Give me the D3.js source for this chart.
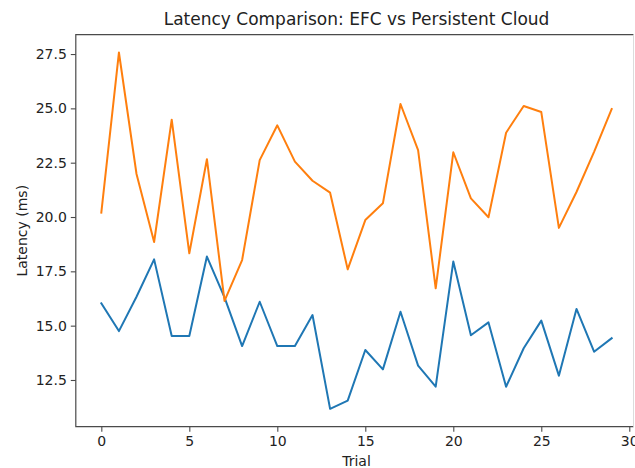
<!DOCTYPE html>
<html>
<head>
<meta charset="utf-8">
<script src="https://cdn.jsdelivr.net/npm/d3@7"></script>
<style>
  html, body { margin: 0; padding: 0; background: #fff; }
  svg { display: block; }
  text { font-family: "DejaVu Sans", sans-serif; fill: #222; }
</style>
</head>
<body>
<svg id="chart" width="635" height="468"></svg>
<script>
// Trial index and measured latencies (ms)
const trials = d3.range(30);
const efcLatency = [16.03, 14.75, 16.33, 18.05, 14.52, 14.52, 18.18, 16.3, 14.06, 16.1,
                    14.06, 14.06, 15.49, 11.17, 11.55, 13.88, 12.99, 15.64, 13.16, 12.19,
                    17.95, 14.56, 15.15, 12.19, 13.96, 15.23, 12.7, 15.77, 13.8, 14.42];
const cloudLatency = [20.2, 27.57, 21.98, 18.85, 24.48, 18.33, 22.66, 16.14, 18.02, 22.62,
                      24.22, 22.55, 21.67, 21.12, 17.59, 19.86, 20.63, 25.2, 23.08, 16.72,
                      22.98, 20.86, 19.99, 23.88, 25.11, 24.83, 19.5, 21.15, 23.0, 24.97];
const xTicks = [0, 5, 10, 15, 20, 25, 30];
const yTicks = [12.5, 15.0, 17.5, 20.0, 22.5, 25.0, 27.5];
const seriesColors = ["#1f77b4", "#ff7f0e"];

const svg = d3.select("#chart");
const plot = { left: 75.8, right: 637.2, top: 34.7, bottom: 426.7 };
const visibleRight = 633.5;

// Axis limits with 5% padding around the data
const xPad = 0.05 * (d3.max(trials) - d3.min(trials));
const x = d3.scaleLinear()
  .domain([d3.min(trials) - xPad, d3.max(trials) + xPad])
  .range([plot.left, plot.right]);
const allY = efcLatency.concat(cloudLatency);
const yMin = d3.min(allY), yMax = d3.max(allY);
const yPad = 0.05 * (yMax - yMin);
const y = d3.scaleLinear()
  .domain([yMin - yPad, yMax + yPad])
  .range([plot.bottom, plot.top]);

// Series lines
const line = d3.line().x((d, i) => x(trials[i])).y(d => y(d));
[efcLatency, cloudLatency].forEach((vals, k) => {
  svg.append("path")
    .datum(vals)
    .attr("d", line)
    .attr("fill", "none")
    .attr("stroke", seriesColors[k])
    .attr("stroke-width", 2)
    .attr("stroke-linejoin", "round")
    .attr("stroke-linecap", "square");
});

// Frame: left, top and bottom spines, faint right edge
svg.append("path")
  .attr("d", `M${visibleRight},${plot.top}H${plot.left}V${plot.bottom}H${visibleRight}`)
  .attr("fill", "none").attr("stroke", "#4a4a4a").attr("stroke-width", 1.2);
svg.append("line")
  .attr("x1", visibleRight).attr("x2", visibleRight)
  .attr("y1", plot.top).attr("y2", plot.bottom)
  .attr("stroke", "#dcdcdc").attr("stroke-width", 1);

// Axes
const xAxis = d3.axisBottom(x).tickValues(xTicks).tickFormat(d3.format("d")).tickSize(5).tickPadding(4);
const yAxis = d3.axisLeft(y).tickValues(yTicks).tickFormat(d3.format(".1f")).tickSize(5).tickPadding(4);

const gx = svg.append("g").attr("transform", `translate(0,${plot.bottom})`).call(xAxis);
const gy = svg.append("g").attr("transform", `translate(${plot.left},0)`).call(yAxis);
[gx, gy].forEach(g => {
  g.select(".domain").remove();
  g.selectAll(".tick line").attr("stroke", "#4a4a4a").attr("stroke-width", 1.1);
  g.selectAll(".tick text").style("font-size", "14px").attr("fill", "#222");
});

// Titles
svg.append("text")
  .attr("x", (plot.left + plot.right) / 2).attr("y", 25)
  .attr("text-anchor", "middle").style("font-size", "17px")
  .text("Latency Comparison: EFC vs Persistent Cloud");
svg.append("text")
  .attr("x", (plot.left + plot.right) / 2).attr("y", 466)
  .attr("text-anchor", "middle").style("font-size", "14px")
  .text("Trial");
svg.append("text")
  .attr("transform", `translate(27,${(plot.top + plot.bottom) / 2}) rotate(-90)`)
  .attr("text-anchor", "middle").style("font-size", "14px")
  .text("Latency (ms)");
</script>
</body>
</html>
